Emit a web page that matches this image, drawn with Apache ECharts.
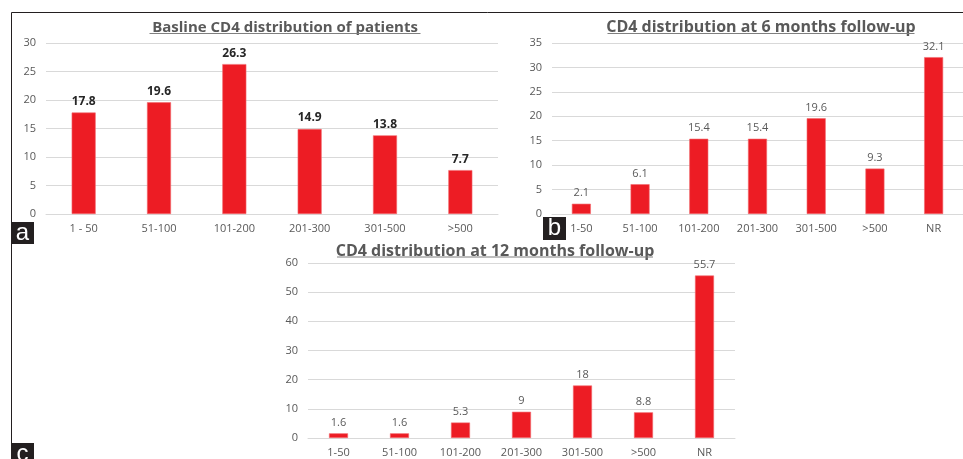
<!DOCTYPE html>
<html>
<head>
<meta charset="utf-8">
<script src="https://cdn.jsdelivr.net/npm/echarts@6/dist/echarts.min.js"></script>
<style>
  html, body { margin: 0; padding: 0; background: #fff; }
  #chart { width: 963px; height: 459px; }
</style>
</head>
<body>
<div id="chart"></div>
<script>
// CD4 count bands (cells/mm³) and share of patients (%)
const baselineCategories = ['1 - 50', '51-100', '101-200', '201-300', '301-500', '>500'];
const baselineValues = [17.8, 19.6, 26.3, 14.9, 13.8, 7.7];

const followUpCategories = ['1-50', '51-100', '101-200', '201-300', '301-500', '>500', 'NR'];
const month6Values = [2.1, 6.1, 15.4, 15.4, 19.6, 9.3, 32.1];
const month12Values = [1.6, 1.6, 5.3, 9, 18, 8.8, 55.7];

const panelTitles = [
  'Basline CD4 distribution of patients',
  'CD4 distribution at 6 months follow-up',
  'CD4 distribution at 12 months follow-up'
];
const panelLetters = ['a', 'b', 'c'];

const FONT = '"Open Sans", "DejaVu Sans", sans-serif';
const RED = '#ed1c24';
const GRID_LINE = '#d9d9d9';
const AXIS_TEXT = '#595959';

const chart = echarts.init(document.getElementById('chart'), null, { renderer: 'canvas' });

function xAxisFor(gridIndex, data) {
  return {
    type: 'category', gridIndex, data,
    axisLine: { show: true, lineStyle: { color: GRID_LINE, width: 1 } },
    axisTick: { show: false },
    axisLabel: { color: AXIS_TEXT, fontFamily: FONT, fontSize: 11, margin: 9, interval: 0 }
  };
}
function yAxisFor(gridIndex, max, interval) {
  return {
    type: 'value', gridIndex, min: 0, max, interval,
    axisLine: { show: false }, axisTick: { show: false },
    splitLine: { lineStyle: { color: GRID_LINE, width: 1 } },
    axisLabel: { color: AXIS_TEXT, fontFamily: FONT, fontSize: 11, margin: 10 }
  };
}
function barSeries(idx, data, barWidth, labelStyle) {
  return {
    type: 'bar', xAxisIndex: idx, yAxisIndex: idx, data, barWidth,
    itemStyle: { color: RED, borderColor: '#f26a6f', borderWidth: 0.6 },
    label: Object.assign({ show: true, position: 'top', distance: 5, fontFamily: FONT }, labelStyle),
    silent: true, animation: false
  };
}

// Title text with an underline, plus the panel letter tags and the frame
function titleGraphic(text, cx, cy, size, underlineY, halfWidth) {
  return [
    { type: 'text', x: cx, y: cy, style: { text, fill: '#595959', font: 'bold ' + size + 'px ' + FONT, align: 'center', verticalAlign: 'middle' } },
    { type: 'line', shape: { x1: cx - halfWidth, y1: underlineY, x2: cx + halfWidth, y2: underlineY }, style: { stroke: '#7f7f7f', lineWidth: 1 } }
  ];
}
function letterTag(letter, x, y, w, h) {
  return [
    { type: 'rect', shape: { x, y, width: w, height: h }, style: { fill: '#231f20' } },
    { type: 'text', x: x + w / 2, y: y + h / 2, style: { text: letter, fill: '#fff', font: '24px "Liberation Sans", Arial, sans-serif', align: 'center', verticalAlign: 'middle' } }
  ];
}

const graphics = [].concat(
  titleGraphic(panelTitles[0], 285, 27.5, 15, 33.5, 135.5),
  titleGraphic(panelTitles[1], 761, 27.5, 16, 33.5, 153.5),
  titleGraphic(panelTitles[2], 495, 251.5, 16, 257, 158),
  letterTag(panelLetters[0], 11, 222, 23, 22),
  letterTag(panelLetters[1], 543, 217, 23, 23),
  letterTag(panelLetters[2], 11, 443, 23, 22),
  [
    { type: 'line', shape: { x1: 11.5, y1: 12.5, x2: 963, y2: 12.5 }, style: { stroke: '#231f20', lineWidth: 1 } },
    { type: 'line', shape: { x1: 11.5, y1: 12.5, x2: 11.5, y2: 459 }, style: { stroke: '#231f20', lineWidth: 1 } }
  ]
);

chart.setOption({
  animation: false,
  backgroundColor: '#fff',
  grid: [
    { left: 46, top: 43, width: 452, height: 171 },
    { left: 552, top: 43, width: 416, height: 171 },
    { left: 308, top: 263, width: 427, height: 175 }
  ],
  xAxis: [
    xAxisFor(0, baselineCategories),
    xAxisFor(1, followUpCategories),
    xAxisFor(2, followUpCategories)
  ],
  yAxis: [
    yAxisFor(0, 30, 5),
    yAxisFor(1, 35, 5),
    yAxisFor(2, 60, 10)
  ],
  series: [
    barSeries(0, baselineValues, 24, { color: '#262626', fontWeight: 'bold', fontSize: 12 }),
    barSeries(1, month6Values, 19, { color: AXIS_TEXT, fontSize: 11 }),
    barSeries(2, month12Values, 19, { color: AXIS_TEXT, fontSize: 11 })
  ],
  graphic: graphics
});
</script>
</body>
</html>
